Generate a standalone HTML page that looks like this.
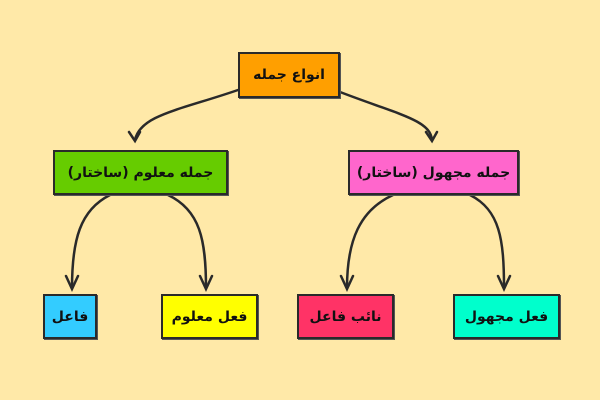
<!DOCTYPE html>
<html><head><meta charset="utf-8"><style>
body{margin:0;width:600px;height:400px;background:#ffe9a8;overflow:hidden;position:relative;font-family:"DejaVu Sans","Liberation Sans",sans-serif;}
.b{position:absolute;box-sizing:border-box;border:2px solid #2a2a2a;display:flex;align-items:center;justify-content:center;font-size:14px;font-weight:bold;color:#111;direction:rtl;box-shadow:1px 1px 0 #555;}
svg{position:absolute;left:0;top:0}
</style></head><body>
<svg width="600" height="400" fill="none" stroke="#2a2a2a" stroke-width="2.5" stroke-linecap="round">
<path d="M238 90 C180 110 140 115 135 140"/><path d="M129 132 L135 141 L140 132"/>
<path d="M340 92 C400 115 430 120 432 140"/><path d="M426 132 L432 141 L437 132"/>
<path d="M110 195 C80 210 72 240 72 288"/><path d="M66 276 L72 289 L78 276"/>
<path d="M168 195 C200 210 206 240 206 288"/><path d="M200 276 L206 289 L212 276"/>
<path d="M393 195 C360 210 347 240 347 288"/><path d="M341 276 L347 289 L353 276"/>
<path d="M470 195 C500 210 504 240 504 288"/><path d="M498 276 L504 289 L510 276"/>
</svg>
<div class="b" style="left:238px;top:52px;width:102px;height:46px;background:#ff9f00">انواع جمله</div>
<div class="b" style="left:53px;top:150px;width:175px;height:45px;background:#66cc00">جمله معلوم (ساختار)</div>
<div class="b" style="left:348px;top:150px;width:171px;height:45px;background:#ff66cc">جمله مجهول (ساختار)</div>
<div class="b" style="left:43px;top:294px;width:54px;height:45px;background:#33ccff">فاعل</div>
<div class="b" style="left:161px;top:294px;width:97px;height:45px;background:#ffff00">فعل معلوم</div>
<div class="b" style="left:297px;top:294px;width:97px;height:45px;background:#ff3366">نائب فاعل</div>
<div class="b" style="left:453px;top:294px;width:107px;height:45px;background:#00ffcc">فعل مجهول</div>
</body></html>
